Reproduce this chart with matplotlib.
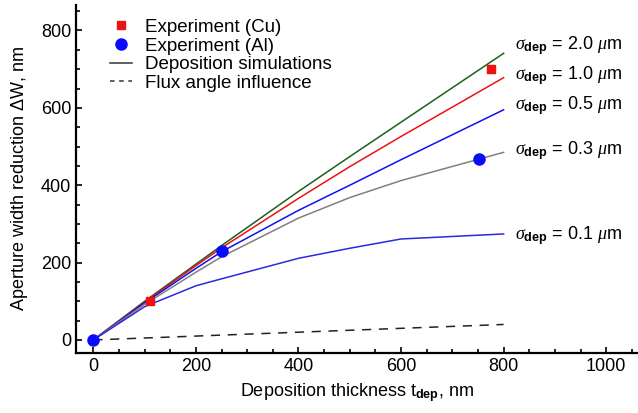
import numpy as np
import matplotlib
matplotlib.use("Agg")
import matplotlib.pyplot as plt
from matplotlib.ticker import MultipleLocator

plt.rcParams['font.family'] = ['Liberation Sans', 'DejaVu Sans']
plt.rcParams['mathtext.fontset'] = 'custom'
plt.rcParams['mathtext.rm'] = 'Liberation Sans'
plt.rcParams['mathtext.it'] = 'Liberation Serif:italic'
plt.rcParams['mathtext.bf'] = 'Liberation Sans:bold'

# simulation curves (deposition thickness, nm -> aperture width reduction, nm)
t_sim = [0, 100, 200, 250, 400, 500, 600, 800]
dw_20 = [0, 100, 196, 244, 384, 474, 563, 741]
dw_10 = [0, 98, 192, 238, 366, 448, 526, 678]
dw_05 = [0, 96, 185, 228, 335, 400, 466, 595]
dw_03 = [0, 92, 175, 215, 315, 368, 412, 485]
dw_01 = [0, 86, 140, 158, 211, 237, 261, 274]

# flux angle influence
t_flux = [0, 800]
dw_flux = [0, 40]

# experiments
t_cu = [110, 776]
dw_cu = [100, 700]
t_al = [0, 251, 751]
dw_al = [0, 231, 468]

sigma_labels = ['2.0', '1.0', '0.5', '0.3', '0.1']
label_y = [760, 683, 606, 489, 270]

fig = plt.figure(figsize=(6.38, 4.13), dpi=100)
ax = fig.add_axes([0.119, 0.146, 0.881, 0.842])

ax.plot(t_sim, dw_20, color='#1e5e1e', lw=1.1)
ax.plot(t_sim, dw_10, color='#ee1111', lw=1.1)
ax.plot(t_sim, dw_05, color='#1111ee', lw=1.1)
ax.plot(t_sim, dw_03, color='#808080', lw=1.1)
ax.plot(t_sim, dw_01, color='#2a2ae0', lw=1.1)
ax.plot(t_flux, dw_flux, color='#222222', lw=1.1, ls=(0, (6, 5)))

ax.plot(t_cu, dw_cu, 's', color='#ee1111', ms=6, zorder=5)
ax.plot(t_al, dw_al, 'o', color='#0a0aff', ms=8, zorder=5)

for s, y in zip(sigma_labels, label_y):
    ax.text(822, y, r'$\sigma_{\mathbf{dep}}$ = ' + s + r' $\mu$m',
            fontsize=13, va='center', ha='left')

# legend
h_cu, = ax.plot([], [], 's', color='#ee1111', ms=6)
h_al, = ax.plot([], [], 'o', color='#0a0aff', ms=8)
h_sim, = ax.plot([], [], color='#333333', lw=1.1)
h_flux, = ax.plot([], [], color='#333333', lw=1.1, ls=(0, (3, 3)))
ax.legend([h_cu, h_al, h_sim, h_flux],
          ['Experiment (Cu)', 'Experiment (Al)', 'Deposition simulations',
           'Flux angle influence'],
          loc='upper left', bbox_to_anchor=(0.06, 0.96), frameon=False,
          fontsize=13.5, handlelength=1.2, labelspacing=0.08,
          handletextpad=0.7, borderaxespad=0, borderpad=0)

ax.set_xlim(-34, 1062)
ax.set_ylim(-33, 866)
ax.xaxis.set_major_locator(MultipleLocator(200))
ax.xaxis.set_minor_locator(MultipleLocator(50))
ax.yaxis.set_major_locator(MultipleLocator(200))
ax.yaxis.set_minor_locator(MultipleLocator(50))
ax.tick_params(which='both', direction='in', width=1.2, labelsize=13)
ax.tick_params(which='major', length=4)
ax.tick_params(which='minor', length=3)
ax.spines['top'].set_visible(False)
ax.spines['right'].set_visible(False)
ax.spines['left'].set_linewidth(1.6)
ax.spines['bottom'].set_linewidth(1.6)

ax.set_xlabel(r'Deposition thickness t$_{\mathbf{dep}}$, nm', fontsize=13,
              labelpad=5)
ax.set_ylabel(r'Aperture width reduction $\Delta$W, nm', fontsize=13,
              labelpad=8)

fig.savefig('out.png', dpi=100)
